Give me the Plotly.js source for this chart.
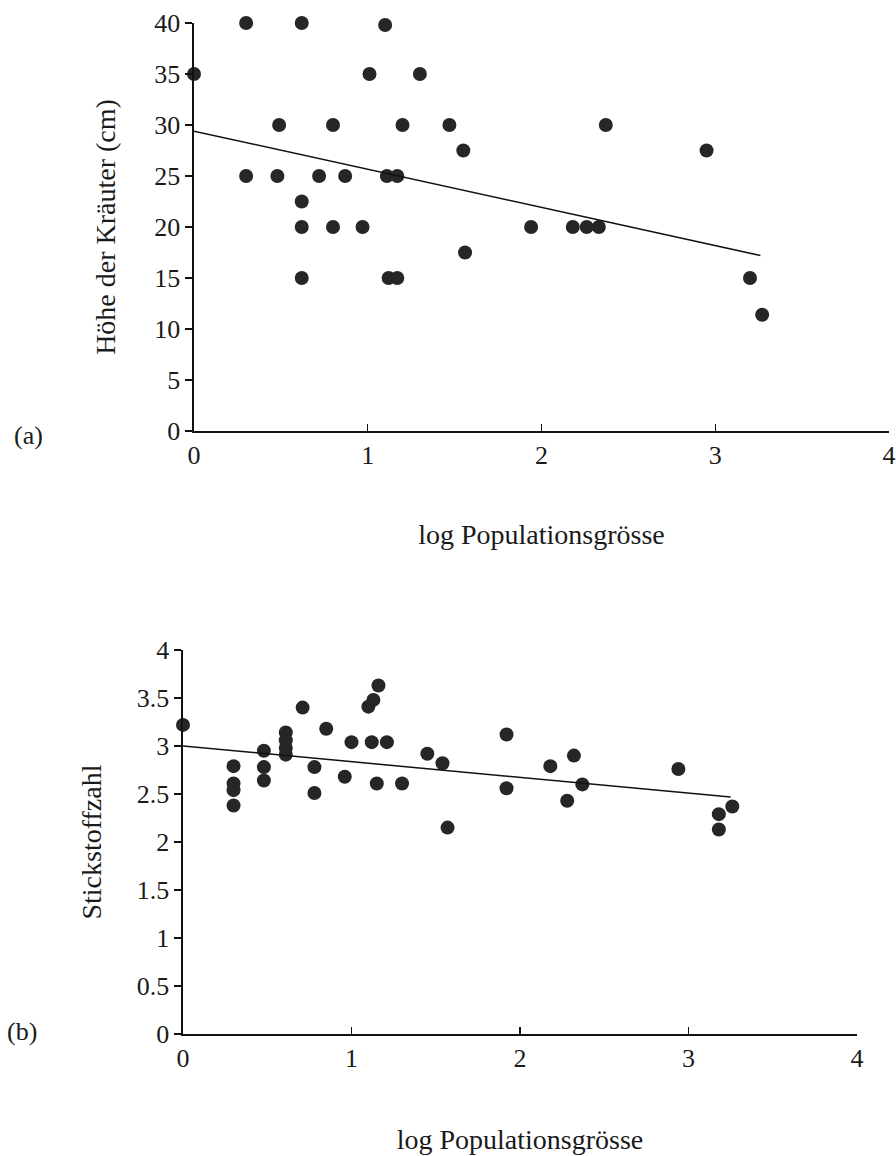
<!DOCTYPE html>
<html>
<head>
<meta charset="utf-8">
<script src="https://cdn.plot.ly/plotly-3.0.1.min.js"></script>
<style>html,body{margin:0;padding:0;background:#fff}#chart{width:896px;height:1156px}</style>
</head>
<body>
<div id="chart"></div>
<script>
// Panel (a): Höhe der Kräuter vs log Populationsgrösse
const logPopA = [0, 0.30, 0.62, 1.10, 1.01, 1.30, 0.49, 0.80, 1.20, 1.47, 1.55, 2.37, 2.95,
  0.30, 0.48, 0.72, 0.87, 1.11, 1.17, 0.62, 0.62, 0.80, 0.97, 1.94, 2.18, 2.26, 2.33,
  0.62, 1.12, 1.17, 1.56, 3.20, 3.27];
const hoeheA = [35, 40, 40, 39.8, 35, 35, 30, 30, 30, 30, 27.5, 30, 27.5,
  25, 25, 25, 25, 25, 25, 22.5, 20, 20, 20, 20, 20, 20, 20,
  15, 15, 15, 17.5, 15, 11.4];
const fitXA = [0, 3.26];
const fitYA = [29.4, 17.2];

// Panel (b): Stickstoffzahl vs log Populationsgrösse
const logPopB = [0, 0.30, 0.30, 0.30, 0.30, 0.48, 0.48, 0.48, 0.61, 0.61, 0.61, 0.61,
  0.71, 0.78, 0.78, 0.85, 0.96, 1.00, 1.10, 1.13, 1.16, 1.12, 1.15, 1.21, 1.30, 1.45,
  1.54, 1.57, 1.92, 1.92, 2.18, 2.32, 2.28, 2.37, 2.94, 3.26, 3.18, 3.18];
const stickstoffB = [3.22, 2.79, 2.61, 2.54, 2.38, 2.95, 2.78, 2.64, 3.14, 3.06, 2.98, 2.91,
  3.40, 2.78, 2.51, 3.18, 2.68, 3.04, 3.41, 3.48, 3.63, 3.04, 2.61, 3.04, 2.61, 2.92,
  2.82, 2.15, 3.12, 2.56, 2.79, 2.90, 2.43, 2.60, 2.76, 2.37, 2.29, 2.13];
const fitXB = [0, 3.25];
const fitYB = [3.0, 2.47];

const yTicksA = [0, 5, 10, 15, 20, 25, 30, 35, 40];
const yTicksB = [0, 0.5, 1, 1.5, 2, 2.5, 3, 3.5, 4];
const xTicks = [0, 1, 2, 3, 4];

const FONT = 'Liberation Serif, Times New Roman, serif';
const dot = {size: 14, color: '#262626'};
const titleFont = {family: FONT, size: 28, color: '#1a1a1a'};

const traces = [
  {x: logPopA, y: hoeheA, mode: 'markers', type: 'scatter', marker: dot, cliponaxis: false, xaxis: 'x', yaxis: 'y', showlegend: false},
  {x: fitXA, y: fitYA, mode: 'lines', type: 'scatter', line: {color: '#111', width: 1.5}, xaxis: 'x', yaxis: 'y', showlegend: false},
  {x: logPopB, y: stickstoffB, mode: 'markers', type: 'scatter', marker: dot, cliponaxis: false, xaxis: 'x2', yaxis: 'y2', showlegend: false},
  {x: fitXB, y: fitYB, mode: 'lines', type: 'scatter', line: {color: '#111', width: 1.5}, xaxis: 'x2', yaxis: 'y2', showlegend: false}
];

const axBase = {
  showgrid: false, zeroline: false, showline: true, linecolor: '#111', linewidth: 1.6,
  tickcolor: '#111', tickwidth: 1.2, ticklen: 7,
  tickfont: {family: FONT, size: 26, color: '#1a1a1a'}, fixedrange: true
};

const layout = {
  width: 896, height: 1156,
  margin: {l: 0, r: 0, t: 0, b: 0},
  paper_bgcolor: '#fff', plot_bgcolor: '#fff',
  font: {family: FONT, color: '#1a1a1a'},
  xaxis: Object.assign({}, axBase, {
    domain: [194/896, 889/896], range: [0, 4], tickvals: xTicks, ticks: 'inside', anchor: 'y',
    title: {text: 'log Populationsgrösse', font: titleFont, standoff: 55}
  }),
  yaxis: Object.assign({}, axBase, {
    domain: [725/1156, 1133/1156], range: [0, 40], tickvals: yTicksA, ticks: 'outside', anchor: 'x',
    title: {text: 'Höhe der Kräuter (cm)', font: titleFont, standoff: 30}
  }),
  xaxis2: Object.assign({}, axBase, {
    domain: [183/896, 857/896], range: [0, 4], tickvals: xTicks, ticks: 'inside', anchor: 'y2',
    title: {text: 'log Populationsgrösse', font: titleFont, standoff: 57}
  }),
  yaxis2: Object.assign({}, axBase, {
    domain: [122/1156, 506/1156], range: [0, 4], tickvals: yTicksB, ticktext: yTicksB.map(String), ticks: 'outside', anchor: 'x2',
    title: {text: 'Stickstoffzahl', font: titleFont, standoff: 27}
  }),
  annotations: [
    {text: '(a)', xref: 'paper', yref: 'paper', x: 28/896, y: (1156-435)/1156, xanchor: 'center', yanchor: 'middle', showarrow: false, font: {family: FONT, size: 26, color: '#1a1a1a'}},
    {text: '(b)', xref: 'paper', yref: 'paper', x: 22/896, y: (1156-1031)/1156, xanchor: 'center', yanchor: 'middle', showarrow: false, font: {family: FONT, size: 26, color: '#1a1a1a'}}
  ]
};

Plotly.newPlot('chart', traces, layout, {displayModeBar: false, staticPlot: true});
</script>
</body>
</html>
